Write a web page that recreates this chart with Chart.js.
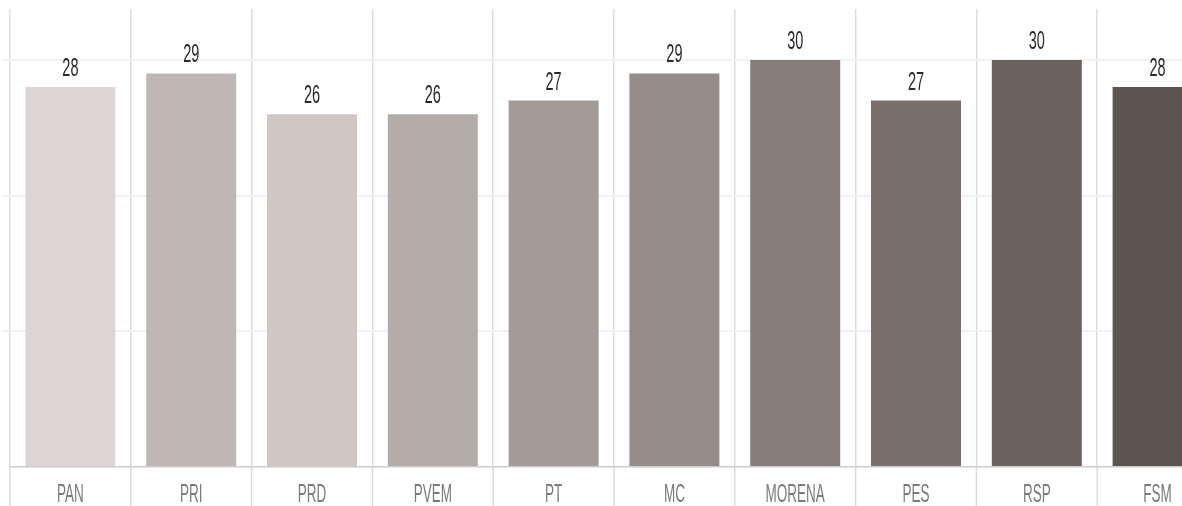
<!DOCTYPE html>
<html>
<head>
<meta charset="utf-8">
<script src="https://cdn.jsdelivr.net/npm/chart.js@4/dist/chart.umd.min.js"></script>
<style>
  html, body { margin: 0; padding: 0; background: #fff; overflow: hidden; }
  #wrap { width: 1182px; height: 506px; overflow: hidden; }
  #box { width: 1220px; height: 506px; }
</style>
</head>
<body>
<div id="wrap"><div id="box"><canvas id="myChart"></canvas></div></div>
<script>
var parties = ['PAN', 'PRI', 'PRD', 'PVEM', 'PT', 'MC', 'MORENA', 'PES', 'RSP', 'FSM'];
var values = [28, 29, 26, 26, 27, 29, 30, 27, 30, 28];
var barColors = ['#ddd5d3', '#c0b6b4', '#d0c7c5', '#b3aba8', '#a39b98',
                 '#958b88', '#877e7b', '#7a6f6c', '#6b615e', '#5d5350'];

var fontFamily = "'Liberation Sans', Arial, sans-serif";

// draws squeezed text (the original uses a tall, condensed face)
function squeezedText(ctx, text, x, y, sx) {
    ctx.save();
    ctx.translate(x, y);
    ctx.scale(sx, 1);
    ctx.fillText(text, 0, 0);
    ctx.restore();
}

// value labels above bars, category labels and the lines between them
var extras = {
    id: 'extras',
    afterDatasetsDraw: function (chart) {
        var ctx = chart.ctx;
        var xs = chart.scales.x;
        var area = chart.chartArea;
        var meta = chart.getDatasetMeta(0);

        ctx.save();
        ctx.strokeStyle = '#dcdcdc';
        ctx.lineWidth = 1.5;
        for (var i = 0; i <= parties.length; i++) {
            var bx = xs.getPixelForValue(i - 0.5);
            ctx.beginPath();
            ctx.moveTo(bx, area.bottom);
            ctx.lineTo(bx, chart.height);
            ctx.stroke();
        }

        ctx.textAlign = 'center';
        ctx.textBaseline = 'alphabetic';
        ctx.fillStyle = '#2a2a2a';
        ctx.font = '25px ' + fontFamily;
        meta.data.forEach(function (bar, i) {
            squeezedText(ctx, String(values[i]), bar.x, bar.y - 11, 0.58);
        });

        ctx.fillStyle = '#7a7a7a';
        ctx.font = '25px ' + fontFamily;
        parties.forEach(function (p, i) {
            squeezedText(ctx, p, xs.getPixelForValue(i), area.bottom + 35, 0.54);
        });
        ctx.restore();
    }
};

var ctx = document.getElementById('myChart').getContext('2d');
var myChart = new Chart(ctx, {
    type: 'bar',
    data: {
        labels: parties,
        datasets: [{
            data: values,
            backgroundColor: barColors,
            categoryPercentage: 1,
            barPercentage: 0.745
        }]
    },
    options: {
        responsive: true,
        maintainAspectRatio: false,
        animation: false,
        layout: { padding: { top: 9, left: 3, right: 2, bottom: 39 } },
        plugins: {
            legend: { display: false },
            tooltip: { enabled: false }
        },
        scales: {
            x: {
                grid: {
                    color: '#dcdcdc',
                    lineWidth: 1.5,
                    drawTicks: false
                },
                border: { color: '#cccccc', width: 1.5 },
                ticks: { display: false }
            },
            y: {
                min: 0,
                max: 33.75,
                ticks: { display: false, stepSize: 10 },
                grid: {
                    color: function (c) {
                        return c.tick && c.tick.value % 10 === 0 && c.tick.value > 0 ? '#f1f1f1' : 'rgba(0,0,0,0)';
                    },
                    lineWidth: 2,
                    tickLength: 7
                },
                border: { display: false }
            }
        }
    },
    plugins: [extras]
});
</script>
</body>
</html>
